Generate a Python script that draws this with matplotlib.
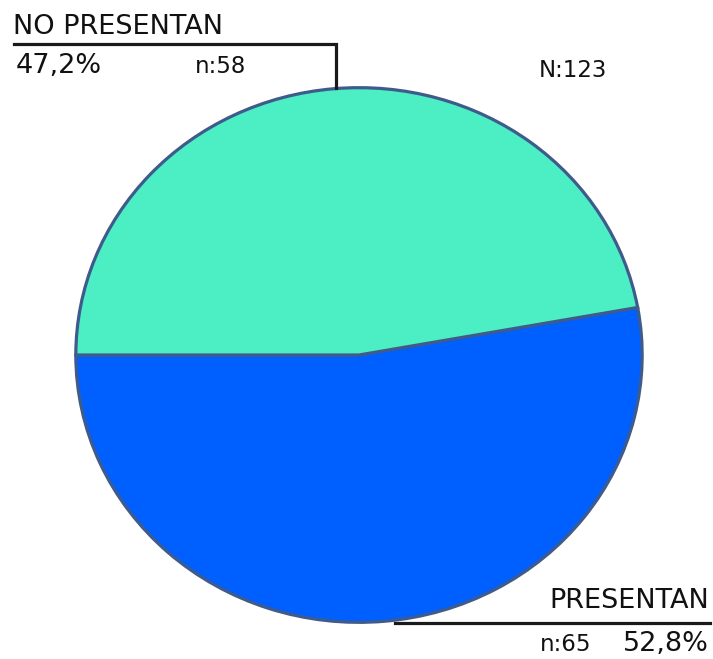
import matplotlib.pyplot as plt

# data
labels = ['PRESENTAN', 'NO PRESENTAN']
counts = [65, 58]
pcts = ['52,8%', '47,2%']
total = 123
colors = ['#0060FF', '#4CEEC4']
edge = '#3E5B8C'

W, H = 713, 659
fig = plt.figure(figsize=(W / 100, H / 100), dpi=100)
plt.rcParams['font.family'] = ['DejaVu Sans']

# pie bounding box in pixels (left, top, right, bottom)
px0, py0, px1, py1 = 73, 85, 645, 625
ax = fig.add_axes([px0 / W, 1 - py1 / H, (px1 - px0) / W, (py1 - py0) / H])
ax.pie(counts, colors=colors, startangle=180, counterclock=True,
       wedgeprops=dict(edgecolor=edge, linewidth=2.3))
ax.set_aspect('auto')
ax.set_xlim(-1.01, 1.01)
ax.set_ylim(-1.01, 1.01)
ax.axis('off')

# overlay in pixel coordinates
ov = fig.add_axes([0, 0, 1, 1])
ov.set_xlim(0, W)
ov.set_ylim(H, 0)
ov.axis('off')
ov.patch.set_alpha(0)

lc = '#1a1a1a'
tc = '#111111'
ov.plot([14, 336, 336], [44, 44, 88], color=lc, lw=2.3, solid_joinstyle='miter')
ov.plot([395, 710], [623, 623], color=lc, lw=2.3)

fs = 19.5
ov.text(13, 34, labels[1], fontsize=fs, ha='left', va='baseline', color=tc)
ov.text(16, 73, pcts[1], fontsize=fs, ha='left', va='baseline', color=tc)
ov.text(195, 73, 'n:' + str(counts[1]), fontsize=16.5, ha='left', va='baseline', color=tc)

ov.text(709, 608, labels[0], fontsize=fs, ha='right', va='baseline', color=tc)
ov.text(709, 651, pcts[0], fontsize=fs, ha='right', va='baseline', color=tc)
ov.text(540, 651, 'n:' + str(counts[0]), fontsize=16.5, ha='left', va='baseline', color=tc)

ov.text(539, 77, 'N:' + str(total), fontsize=16.5, ha='left', va='baseline', color=tc)

fig.savefig('out.png', dpi=100)
